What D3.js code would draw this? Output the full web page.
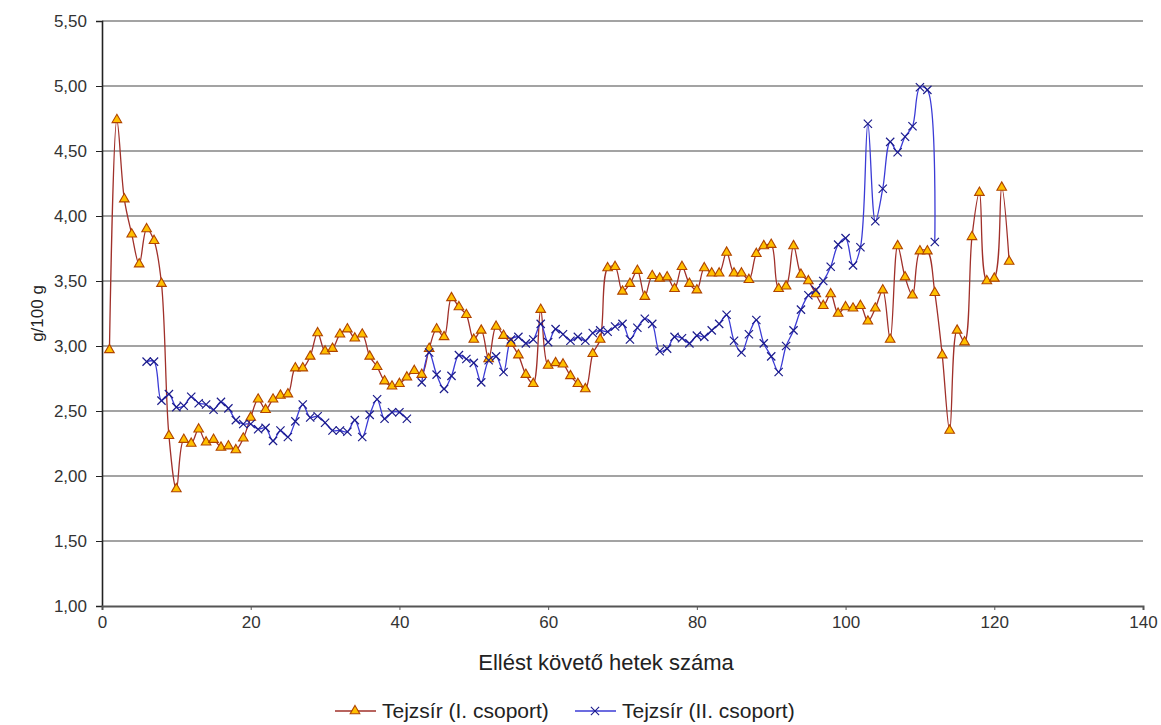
<!DOCTYPE html>
<html>
<head>
<meta charset="utf-8">
<script src="https://cdn.jsdelivr.net/npm/d3@7"></script>
<style>
  html, body { margin: 0; padding: 0; background: #fff; }
  svg { display: block; font-family: "Liberation Sans", Arial, sans-serif; }
</style>
</head>
<body>
<svg id="chart" width="1161" height="725"></svg>
<script>
// Weeks after calving (x) and milk fat content, g/100 g (y)
const weeksI = d3.range(1, 123);
const fatI = [
  2.97, 4.74, 4.13, 3.86, 3.63, 3.90, 3.81, 3.48, 2.31, 1.90,
  2.28, 2.25, 2.36, 2.26, 2.28, 2.22, 2.23, 2.20, 2.29, 2.45,
  2.59, 2.51, 2.59, 2.62, 2.63, 2.83, 2.83, 2.92, 3.10, 2.96,
  2.98, 3.09, 3.13, 3.06, 3.09, 2.92, 2.84, 2.73, 2.69, 2.71,
  2.76, 2.81, 2.78, 2.98, 3.13, 3.07, 3.37, 3.30, 3.24, 3.05,
  3.12, 2.90, 3.15, 3.08, 3.02, 2.93, 2.78, 2.71, 3.28, 2.85,
  2.87, 2.86, 2.77, 2.71, 2.67, 2.94, 3.05, 3.60, 3.61, 3.42,
  3.48, 3.58, 3.38, 3.54, 3.52, 3.53, 3.44, 3.61, 3.48, 3.43,
  3.60, 3.56, 3.56, 3.72, 3.56, 3.56, 3.51, 3.71, 3.77, 3.78,
  3.44, 3.46, 3.77, 3.55, 3.50, 3.40, 3.31, 3.40, 3.25, 3.30,
  3.29, 3.31, 3.19, 3.29, 3.43, 3.05, 3.77, 3.53, 3.39, 3.73,
  3.73, 3.41, 2.93, 2.35, 3.12, 3.03, 3.84, 4.18, 3.50, 3.52,
  4.22, 3.65
];

const weeksII = d3.range(6, 113);
const fatII = [
  2.88, 2.88, 2.58, 2.63, 2.53, 2.54, 2.61, 2.56, 2.55, 2.51,
  2.57, 2.52, 2.43, 2.40, 2.40, 2.36, 2.37, 2.27, 2.35, 2.30,
  2.42, 2.55, 2.45, 2.46, 2.41, 2.35, 2.35, 2.34, 2.43, 2.30,
  2.47, 2.59, 2.44, 2.49, 2.49, 2.44, null, 2.72, 2.95, 2.78,
  2.67, 2.77, 2.93, 2.90, 2.87, 2.72, 2.89, 2.92, 2.80, 3.05,
  3.07, 3.02, 3.05, 3.17, 3.03, 3.13, 3.09, 3.04, 3.07, 3.04,
  3.10, 3.12, 3.11, 3.15, 3.17, 3.05, 3.14, 3.21, 3.17, 2.96,
  2.98, 3.07, 3.06, 3.02, 3.08, 3.07, 3.12, 3.17, 3.24, 3.04,
  2.95, 3.09, 3.20, 3.02, 2.92, 2.80, 3.00, 3.12, 3.28, 3.39,
  3.43, 3.50, 3.61, 3.78, 3.83, 3.62, 3.76, 4.71, 3.96, 4.21,
  4.57, 4.49, 4.61, 4.69, 4.99, 4.97, 3.80
];

const xTicks = [0, 20, 40, 60, 80, 100, 120, 140];
const yTicks = [1.0, 1.5, 2.0, 2.5, 3.0, 3.5, 4.0, 4.5, 5.0, 5.5];
const seriesNames = ["Tejzsír (I. csoport)", "Tejzsír (II. csoport)"];
const xTitle = "Ellést követő hetek száma";
const yTitle = "g/100 g";

const svg = d3.select("#chart");
const margin = { top: 21, right: 18, bottom: 119, left: 102 };
const W = 1161, H = 725;

const x = d3.scaleLinear().domain([0, 140]).range([margin.left, W - margin.right]);
const y = d3.scaleLinear().domain([1, 5.5]).range([H - margin.bottom, margin.top]);

const fmt = d => d3.format(".2f")(d).replace(".", ",");

// horizontal gridlines
svg.append("g")
  .selectAll("line")
  .data(yTicks.filter(d => d > 1))
  .join("line")
  .attr("x1", x(0)).attr("x2", x(140))
  .attr("y1", d => y(d)).attr("y2", d => y(d))
  .attr("stroke", "#858585").attr("stroke-width", 1.4);

// y axis
const yAxis = svg.append("g")
  .attr("transform", `translate(${x(0)},0)`)
  .call(d3.axisLeft(y).tickValues(yTicks).tickFormat(fmt).tickSize(6).tickPadding(9));
yAxis.select(".domain").attr("stroke", "#222").attr("stroke-width", 1.6);
yAxis.selectAll(".tick line").attr("stroke", "#222");
yAxis.selectAll("text").attr("font-size", 17).attr("fill", "#333")
  .attr("font-family", "Liberation Sans, Arial, sans-serif");

// x axis
const xAxis = svg.append("g")
  .attr("transform", `translate(0,${y(1)})`)
  .call(d3.axisBottom(x).tickValues(xTicks).tickFormat(d3.format("d")).tickSize(4).tickPadding(6));
xAxis.select(".domain").attr("stroke", "#555").attr("stroke-width", 2);
xAxis.selectAll(".tick line").attr("stroke", "#555");
xAxis.selectAll("text").attr("font-size", 17).attr("fill", "#333")
  .attr("font-family", "Liberation Sans, Arial, sans-serif");

// axis titles
svg.append("text")
  .attr("x", 606).attr("y", 670)
  .attr("text-anchor", "middle")
  .attr("font-size", 22).attr("fill", "#222")
  .text(xTitle);

svg.append("text")
  .attr("transform", `translate(43,${(y(1) + y(5.5)) / 2}) rotate(-90)`)
  .attr("text-anchor", "middle")
  .attr("font-size", 17).attr("fill", "#222")
  .text(yTitle);

// series lines
const ptsI = weeksI.map((w, i) => ({ w, v: fatI[i] }));
const ptsII = weeksII.map((w, i) => ({ w, v: fatII[i] }));

const line = d3.line()
  .defined(d => d.v != null)
  .x(d => x(d.w)).y(d => y(d.v))
  .curve(d3.curveCatmullRom.alpha(0.5));

const colI = "#a0302a", colII = "#3b3bd6";

svg.append("path").datum(ptsI)
  .attr("d", line).attr("fill", "none")
  .attr("stroke", colI).attr("stroke-width", 1.3);

svg.append("path").datum(ptsII)
  .attr("d", line).attr("fill", "none")
  .attr("stroke", colII).attr("stroke-width", 1.3);

// markers
const tri = d3.symbol().type(d3.symbolTriangle).size(40);
svg.append("g").selectAll("path")
  .data(ptsI)
  .join("path")
  .attr("d", tri)
  .attr("transform", d => `translate(${x(d.w)},${y(d.v)})`)
  .attr("fill", "#ffc000").attr("stroke", "#b04400").attr("stroke-width", 1.1);

const cross = d3.symbol().type(d3.symbolX).size(46);
svg.append("g").selectAll("path")
  .data(ptsII.filter(d => d.v != null))
  .join("path")
  .attr("d", cross)
  .attr("transform", d => `translate(${x(d.w)},${y(d.v)})`)
  .attr("fill", "none").attr("stroke", "#1c1c8c").attr("stroke-width", 1.2);

// legend
const legend = svg.append("g").attr("font-size", 21).attr("fill", "#222");
const legItems = [
  { name: seriesNames[0], x0: 335, color: colI, sym: tri, fill: "#ffc000", stroke: "#b04400", tx: 382 },
  { name: seriesNames[1], x0: 575, color: colII, sym: cross, fill: "none", stroke: "#1c1c8c", tx: 622 }
];
const ly = 711;
legItems.forEach(it => {
  legend.append("line")
    .attr("x1", it.x0).attr("x2", it.x0 + 41)
    .attr("y1", ly).attr("y2", ly)
    .attr("stroke", it.color).attr("stroke-width", 1.3);
  legend.append("path")
    .attr("d", it.sym)
    .attr("transform", `translate(${it.x0 + 20},${ly})`)
    .attr("fill", it.fill).attr("stroke", it.stroke).attr("stroke-width", 1.1);
  legend.append("text")
    .attr("x", it.tx).attr("y", ly + 7)
    .text(it.name);
});
</script>
</body>
</html>
